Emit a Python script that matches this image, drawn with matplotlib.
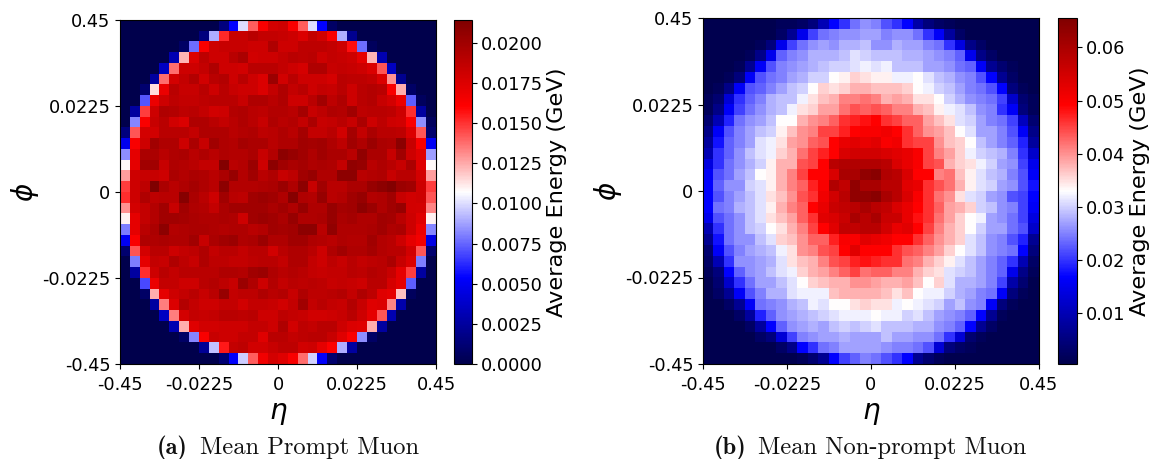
import numpy as np
import matplotlib
matplotlib.use('Agg')
import matplotlib.pyplot as plt

W, H = 1151, 459

tick_pos = [-0.5, 7.5, 15.5, 23.5, 31.5]
x_labels = ['-0.45', '-0.0225', '0', '0.0225', '0.45']
y_labels = ['-0.45', '-0.0225', '0', '0.0225', '0.45']

# prompt muon, units of 1e-4 GeV, top row first
prompt = [
    [0]*10 + [15,53,98,138,160,175,178,160,138,98,53,8] + [0]*10,
    [0]*8 + [15,88,149,180,180,186,182,182,180,178,172,182,176,160,88,20] + [0]*8,
    [0]*6 + [8,75,160,178,180,180,180,178,178,190,178,178,184,184,184,182,178,155,75,5] + [0]*6,
    [0]*5 + [30,120,172,184,178,178,186,192,176,178,178,182,186,184,186,178,182,180,178,168,120,30] + [0]*5,
    [0]*4 + [35,135,178,178,182,190,178,178,176,186,186,186,182,178,174,190,190,180,182,180,178,172,140,35] + [0]*4,
    [0]*3 + [25,135,175,182,188,176,186,188,178,186,178,172,198,176,186,178,178,178,174,186,184,184,182,172,128,20] + [0]*3,
    [0,0,10,112,165,186,180,180,186,178,186,180,178,178,172,182,190,182,186,178,182,180,186,178,186,188,186,160,122,8,0,0],
    [0,0,70,165,178,184,182,182,184,186,186,186,180,190,190,186,190,178,178,186,196,184,190,178,186,188,180,175,165,72,5,0],
    [0,25,145,178,190,188,184,186,182,176,178,188,190,186,184,188,188,186,194,180,184,190,188,196,184,186,186,184,178,148,25,0],
    [0,80,160,180,186,176,172,190,190,186,182,186,190,186,180,190,186,188,182,192,180,182,186,180,192,178,184,178,176,160,82,5],
    [15,140,175,176,186,186,186,182,190,190,190,186,188,190,184,186,190,186,194,182,182,186,176,194,182,192,186,186,184,172,140,10],
    [48,160,178,196,190,190,178,192,180,196,190,188,194,192,192,186,190,190,196,194,196,190,184,196,190,198,192,190,205,180,160,50],
    [82,168,192,192,186,190,192,186,190,186,190,188,188,192,180,188,204,200,196,190,196,192,192,186,202,192,192,180,196,178,170,85],
    [106,168,196,196,180,190,188,186,182,182,208,186,188,198,178,204,196,192,194,190,192,190,182,202,200,186,190,186,180,192,170,106],
    [125,178,180,180,178,192,188,192,190,186,192,200,188,196,186,190,180,184,196,200,190,190,204,204,186,188,190,180,186,186,175,125],
    [145,178,184,212,192,186,190,194,190,186,204,188,188,188,190,192,198,190,204,180,196,186,186,192,192,200,204,208,198,196,178,145],
    [148,178,190,184,186,186,206,192,186,178,196,186,184,196,198,196,190,206,190,188,200,186,188,196,200,188,190,196,180,176,178,140],
    [128,175,182,188,196,180,196,190,188,182,192,196,196,196,196,192,196,190,200,190,190,200,194,196,204,198,190,196,200,176,175,130],
    [108,168,182,188,196,196,194,192,190,190,192,190,178,196,198,196,192,200,190,190,192,200,192,194,190,190,196,194,186,178,170,108],
    [78,168,186,192,204,188,190,192,192,190,188,190,190,186,188,196,194,196,204,204,186,202,190,190,190,192,196,190,192,178,165,80],
    [50,160,190,190,192,190,190,196,180,192,196,198,190,192,198,190,190,196,196,190,188,186,190,188,188,196,188,186,178,168,162,45],
    [10,140,175,186,186,178,182,184,190,182,186,186,182,186,186,176,186,190,190,186,178,190,196,190,190,194,188,186,186,176,140,10],
    [0,78,168,182,180,190,184,180,190,184,184,182,182,184,186,186,182,190,190,182,178,184,180,186,182,184,186,192,180,172,78,0],
    [0,25,148,178,186,182,186,186,186,186,190,190,188,196,198,190,186,188,186,182,180,182,182,186,184,188,186,180,168,145,25,0],
    [0,0,68,165,182,182,178,178,186,188,184,180,198,190,178,188,182,186,184,186,184,180,182,180,178,186,186,174,168,72,0,0],
    [0,0,8,122,168,178,182,186,180,186,200,182,184,184,190,186,188,180,190,184,184,186,188,182,190,184,170,168,118,5,0,0],
    [0,0,0,25,132,172,188,182,178,178,182,182,176,182,182,180,176,182,196,182,186,182,180,188,180,170,172,130,28,0,0,0],
    [0]*4 + [35,132,175,182,180,182,186,186,184,186,178,178,184,182,180,176,176,178,180,186,178,168,140,30] + [0]*4,
    [0]*5 + [30,122,170,176,176,178,178,178,182,182,178,190,176,184,182,186,186,178,172,170,122,25] + [0]*5,
    [0]*6 + [8,80,160,180,178,178,182,182,170,186,186,182,184,186,186,180,170,160,82,8] + [0]*6,
    [0]*8 + [22,92,152,182,184,176,176,180,184,184,176,178,168,158,88,25] + [0]*8,
    [0]*10 + [12,52,95,138,163,175,170,160,135,96,52,10] + [0]*10,
]

# non-prompt muon, units of 1e-3 GeV, top row first
nonprompt = [
    [1]*7 + [2,2,3,5,10,17,20,24,26,25,22,20,17,9,5,3,2] + [1]*8,
    [1]*7 + [3,7,15,21,24,25,26,26,27,27,25,26,26,24,20,16,8,3] + [1]*7,
    [1]*5 + [2,5,15,21,24,26,27,26,28,28,29,26,26,28,27,27,25,24,20,14,6,3] + [1]*5,
    [1]*4 + [2,6,15,23,25,26,28,28,28,29,31,30,29,29,29,28,28,27,26,25,23,15,6,3] + [1]*4,
    [1]*3 + [2,7,16,22,25,26,27,28,29,30,30,31,32,31,32,29,29,29,27,27,26,24,23,16,7,4,2] + [1]*2,
    [1,1,2,5,16,22,24,25,27,28,30,30,33,34,36,35,34,34,32,32,33,31,29,28,26,25,22,17,7,3,1,1],
    [1,2,6,16,22,23,25,27,29,30,33,36,35,36,38,38,37,37,37,36,33,32,30,29,27,25,24,22,17,5,2,1],
    [2,4,13,20,23,25,28,29,29,32,35,37,38,41,41,42,41,38,39,38,35,35,33,30,28,26,25,24,21,12,4,2],
    [2,6,16,21,24,26,28,29,32,35,36,39,39,42,44,43,44,43,41,41,38,37,34,32,31,29,26,25,20,16,5,2],
    [4,10,19,24,26,27,29,33,33,38,40,41,43,46,47,48,49,46,45,43,43,39,37,35,31,30,27,25,24,21,11,4],
    [6,16,22,25,27,29,30,34,37,40,41,45,45,47,49,50,50,51,49,46,43,40,39,37,33,31,27,27,25,22,16,6],
    [8,18,23,25,27,31,32,35,39,40,43,44,49,52,53,52,53,50,51,46,45,45,40,37,36,33,29,27,25,23,19,8],
    [10,20,23,26,29,31,32,36,38,42,45,47,49,54,55,55,55,54,53,52,50,45,41,39,36,32,30,29,28,25,20,12],
    [14,20,24,26,28,30,34,38,38,44,45,49,58,59,59,59,59,58,54,52,50,45,44,38,36,35,32,30,27,26,21,15],
    [16,22,24,27,29,33,34,38,41,45,49,49,54,60,60,63,64,59,58,54,49,49,41,42,37,34,31,29,28,25,22,16],
    [17,23,26,26,30,31,34,38,41,43,47,50,59,57,63,60,60,58,58,53,52,46,44,42,38,34,31,30,27,26,22,18],
    [17,22,25,27,29,31,35,37,40,44,46,51,55,58,63,63,64,60,58,54,50,46,42,40,35,31,30,27,26,22,21,17],
    [17,24,25,28,29,31,34,38,41,43,49,52,56,57,58,60,58,57,54,52,49,46,43,39,38,36,30,29,26,25,21,16],
    [15,22,24,26,29,31,35,37,39,43,46,53,54,56,60,58,60,56,56,52,48,46,42,39,36,33,32,27,26,24,21,14],
    [10,20,24,26,29,30,33,35,38,41,45,49,53,57,57,58,58,55,52,53,49,45,41,38,36,33,30,27,27,24,22,12],
    [7,18,24,26,26,29,31,36,37,40,43,43,47,50,50,53,52,51,49,49,46,43,40,38,36,31,29,26,25,22,19,7],
    [4,16,22,25,27,28,29,32,35,40,41,44,45,49,53,49,49,49,46,44,43,41,39,36,33,31,29,26,25,24,17,5],
    [3,10,20,26,26,27,28,31,35,37,38,41,44,45,47,48,47,46,46,42,41,38,36,34,31,29,27,25,23,20,10,3],
    [2,5,17,23,26,27,29,31,32,36,38,39,41,43,45,42,43,43,41,41,38,36,35,31,30,29,27,25,23,15,6,2],
    [1,4,12,20,24,27,27,29,31,33,36,37,38,38,40,40,39,38,38,39,37,33,36,31,28,28,27,25,21,9,4,1],
    [1,3,7,16,22,25,28,28,31,32,32,32,37,38,38,38,38,37,35,37,33,32,32,30,28,27,25,24,16,5,2,1],
    [1,1,3,7,16,24,25,26,28,29,32,31,33,33,35,36,35,35,32,33,32,31,30,27,29,26,25,16,5,2,1,1],
    [1]*3 + [3,8,19,23,26,27,28,29,30,31,32,32,32,33,32,32,30,31,29,27,26,25,23,17,7,2] + [1]*3,
    [1]*4 + [3,8,17,23,26,27,28,27,29,30,29,30,31,29,29,29,28,28,26,25,23,17,7,3] + [1]*4,
    [1]*5 + [3,5,13,21,25,26,27,27,28,27,27,27,29,27,27,26,26,24,20,13,4,2] + [1]*5,
    [1]*7 + [3,6,17,20,24,25,27,27,27,27,26,25,25,24,22,13,5,3,2] + [1]*6,
    [1]*9 + [2,4,7,17,21,23,25,24,22,20,17,7,4,2] + [1]*9,
]

plt.rcParams['font.size'] = 12.8
plt.rcParams['xtick.major.pad'] = 5.5


def heatmap(fig, box, cbox, rows, scale, vmin, vmax, cticks, cfmt):
    x0, y0, x1, y1 = box
    ax = fig.add_axes([x0 / W, 1 - y1 / H, (x1 - x0) / W, (y1 - y0) / H])
    data = np.array(rows) * scale
    im = ax.imshow(data, cmap='seismic', vmin=vmin, vmax=vmax, aspect='auto', interpolation='nearest')
    ax.set_xticks(tick_pos)
    ax.set_xticklabels(x_labels)
    ax.set_yticks(tick_pos)
    ax.set_yticklabels(y_labels[::-1])
    ax.set_xlabel(r'$\eta$', fontsize=20, labelpad=3)
    ax.set_ylabel(r'$\phi$', fontsize=20, labelpad=1)
    cx0, cx1 = cbox
    cax = fig.add_axes([cx0 / W, 1 - y1 / H, (cx1 - cx0) / W, (y1 - y0) / H])
    cb = fig.colorbar(im, cax=cax, format=cfmt)
    cb.set_ticks(cticks)
    cb.ax.tick_params(pad=3)
    cb.set_label('Average Energy (GeV)', fontsize=16.2, labelpad=3)


fig = plt.figure(figsize=(W / 100, H / 100), dpi=100)

heatmap(fig, (120, 20, 436, 364), (454, 472), prompt, 1.02e-4, 0, 0.02143,
        [0, 0.0025, 0.005, 0.0075, 0.01, 0.0125, 0.015, 0.0175, 0.02], '%.4f')
heatmap(fig, (703, 18, 1039, 364), (1058, 1077), nonprompt, 1e-3, 0.0005, 0.0655,
        [0.01, 0.02, 0.03, 0.04, 0.05, 0.06], '%.2f')

# captions
fig.text(157 / W, 1 - 454 / H, '(a)', family='cmb10', fontsize=17.6, color='#111111')
fig.text(200 / W, 1 - 454 / H, 'Mean Prompt Muon', family='cmr10', fontsize=17.6, color='#111111')
fig.text(714 / W, 1 - 454 / H, '(b)', family='cmb10', fontsize=17.6, color='#111111')
fig.text(758 / W, 1 - 454 / H, 'Mean Non-prompt Muon', family='cmr10', fontsize=17.6, color='#111111')

fig.savefig('out.png', dpi=100)
